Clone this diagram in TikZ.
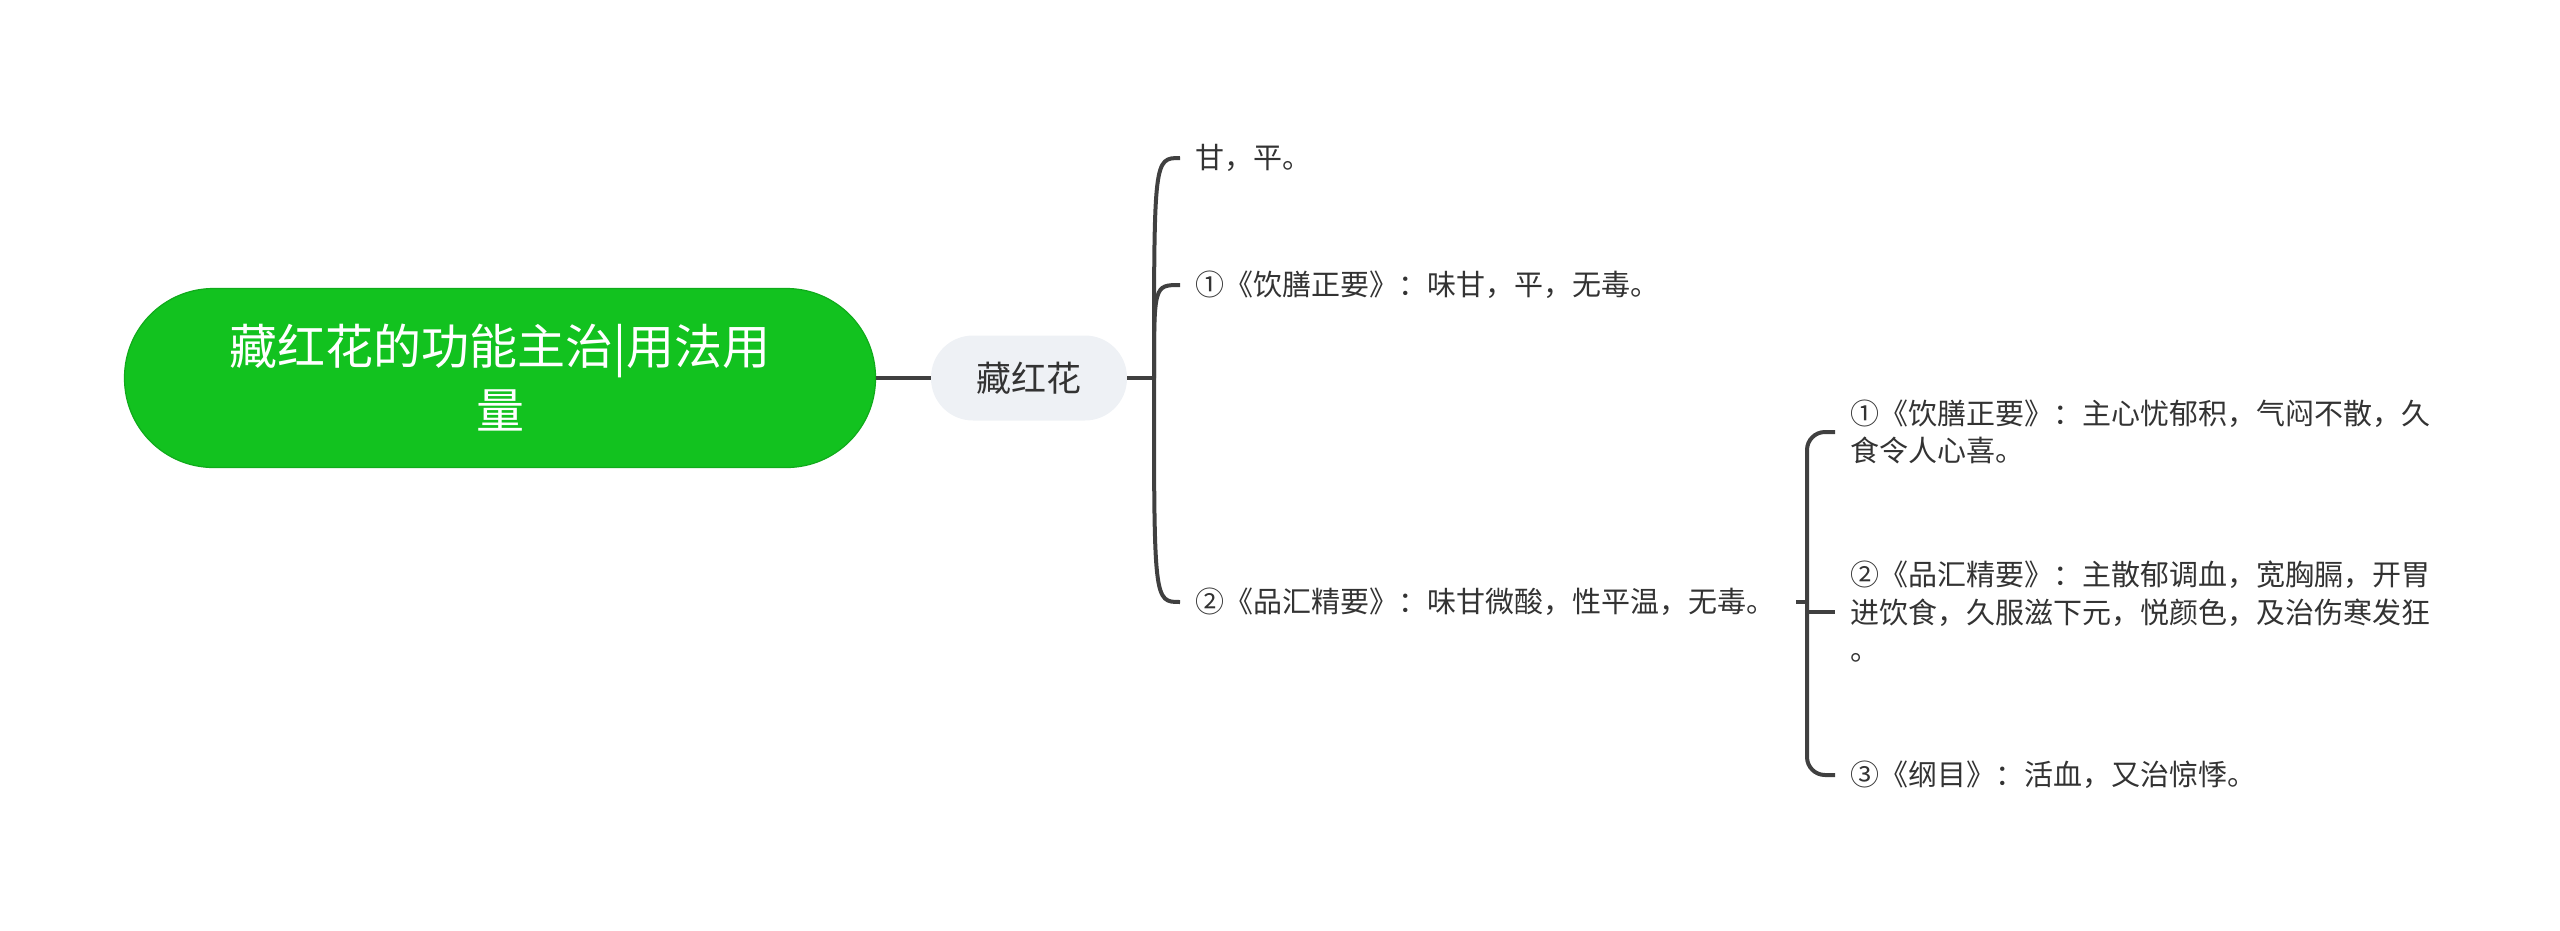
\documentclass[tikz,border=0pt]{standalone}
\usepackage{fontspec}
\setmainfont{Noto Sans CJK SC}
\definecolor{rootg}{HTML}{12C21F}
\definecolor{subbg}{HTML}{EEF1F5}
\definecolor{linec}{HTML}{404040}
\definecolor{txt}{HTML}{333333}
\begin{document}
\begin{tikzpicture}[x=1pt,y=-1pt,
  rootbox/.style={fill=rootg, draw=rootg!88!black, line width=1.2pt, rounded corners=89pt,
    minimum width=751pt, minimum height=179pt, text=white, align=center,
    font=\fontsize{48}{64}\selectfont, inner sep=0pt},
  subbox/.style={fill=subbg, rounded corners=42pt, minimum width=196pt, minimum height=85pt,
    text=txt, font=\fontsize{35}{44}\selectfont, inner sep=0pt},
  leaf/.style={anchor=west, text=txt, align=left, inner xsep=15pt, inner ysep=0pt,
    font=\fontsize{29}{37.5}\selectfont},
  conn/.style={draw=linec, line width=4pt}]
\useasboundingbox (0,0) rectangle (2560,930);
\node[rootbox] (root) at (500,378) {藏红花的功能主治|用法用\\量};
\node[subbox] (child) at (1029,378) {藏红花};
\coordinate (j) at (1154,378);
\node[leaf] (l1) at (1180,158) {甘，平。};
\node[leaf] (l2) at (1180,285) {①《饮膳正要》：味甘，平，无毒。};
\node[leaf] (l3) at (1180,602) {②《品汇精要》：味甘微酸，性平温，无毒。};
\coordinate (bx) at (1807,0);
\node[leaf] (s1) at (1835,432) {①《饮膳正要》：主心忧郁积，气闷不散，久\\食令人心喜。};
\node[leaf] (s2) at (1835,612) {②《品汇精要》：主散郁调血，宽胸膈，开胃\\进饮食，久服滋下元，悦颜色，及治伤寒发狂\\。};
\node[leaf] (s3) at (1835,775) {③《纲目》：活血，又治惊悸。};
\draw[conn] (root.east) -- (child.west);
\draw[conn] (child.east) -- (j);
\draw[conn] (j) .. controls (j |- l1.west) and (j |- l1.west) .. (l1.west);
\draw[conn] (j) .. controls (j |- l2.west) and (j |- l2.west) .. (l2.west);
\draw[conn] (j) .. controls (j |- l3.west) and (j |- l3.west) .. (l3.west);
\draw[conn] ([xshift=6pt]l3.east) -- (l3.east -| bx);
\draw[conn, rounded corners=18pt] (s1.west) -- (s1.west -| bx) -- (s3.west -| bx) -- (s3.west);
\draw[conn] (s2.west -| bx) -- (s2.west);
\end{tikzpicture}
\end{document}
